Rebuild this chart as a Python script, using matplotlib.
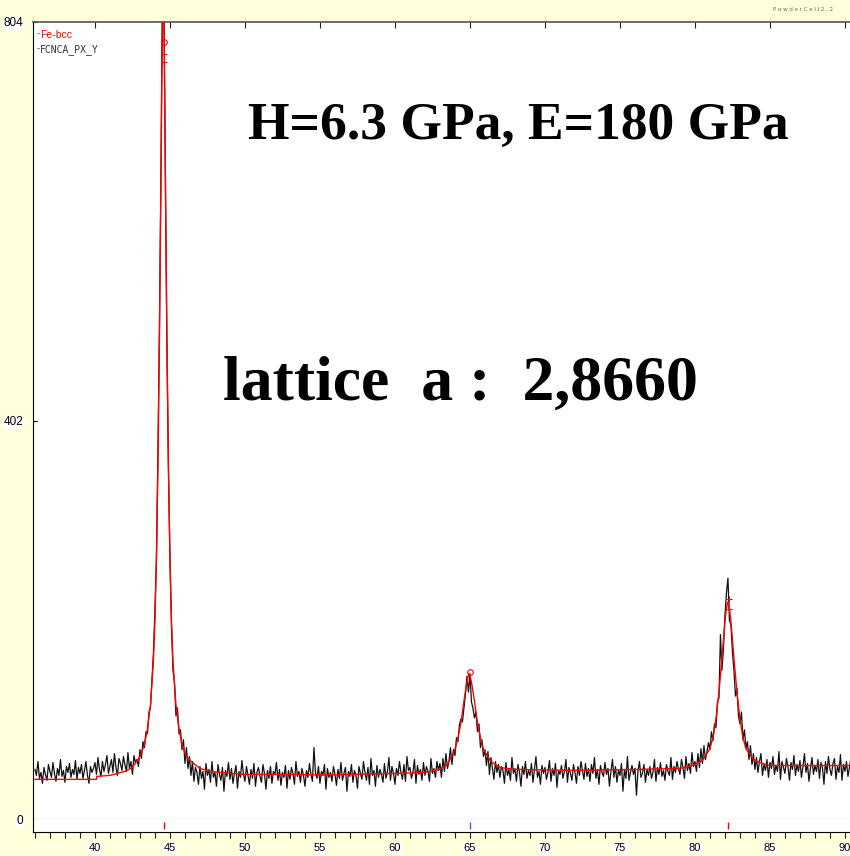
import numpy as np
import matplotlib
matplotlib.use('Agg')
import matplotlib.pyplot as plt
from matplotlib.ticker import MultipleLocator

# measured pattern, 0.1 deg step starting at 36.0 deg 2theta
start_tth = 36.0
step_tth = 0.1
counts = [
    50, 44, 58, 41, 47, 36, 52, 45, 39, 55,
    48, 42, 57, 46, 38, 51, 44, 60, 43, 49,
    37, 53, 47, 56, 42, 50, 45, 59, 40, 52,
    46, 55, 41, 49, 58, 44, 36, 53, 47, 51,
    57, 45, 62, 50, 43, 58, 48, 55, 64, 46,
    53, 60, 47, 66, 52, 44, 61, 56, 49, 63,
    55, 48, 67, 51, 58, 45, 64, 57, 60, 53,
    70, 61, 78, 72, 88, 86, 108, 112, 140, 168,
    212, 262, 372, 498, 655, 845, 826, 640, 470, 352,
    262, 196, 150, 138, 104, 112, 86, 90, 70, 80,
    56, 72, 51, 63, 44, 58, 38, 52, 47, 35,
    53, 41, 48, 30, 56, 44, 50, 37, 58, 42,
    47, 33, 55, 45, 39, 52, 28, 49, 43, 57,
    40, 51, 36, 46, 54, 31, 48, 42, 59, 45,
    38, 53, 44, 35, 50, 41, 56, 33, 47, 52,
    43, 37, 55, 46, 30, 49, 41, 53, 36, 48,
    45, 57, 39, 50, 34, 47, 42, 54, 31, 49,
    40, 52, 46, 35, 58, 43, 48, 37, 51, 44,
    33, 49, 42, 56, 45, 38, 72, 47, 41, 53,
    36, 48, 44, 55, 30, 51, 42, 47, 38, 53,
    45, 34, 50, 41, 57, 39, 46, 52, 28, 48,
    43, 55, 37, 49, 44, 31, 53, 46, 40, 58,
    47, 39, 52, 35, 61, 44, 49, 33, 54, 42,
    50, 45, 37, 56, 41, 48, 62, 39, 53, 46,
    35, 51, 44, 58, 47, 40, 55, 38, 63, 49,
    52, 41, 47, 60, 36, 54, 45, 50, 39, 57,
    44, 53, 48, 38, 61, 46, 51, 42, 58, 49,
    56, 42, 61, 48, 66, 51, 58, 72, 55, 70,
    64, 82, 78, 95, 101, 98, 112, 126, 144, 128,
    146, 118, 112, 102, 108, 88, 96, 72, 80, 63,
    70, 54, 68, 45, 62, 51, 40, 58, 47, 55,
    42, 53, 49, 36, 57, 44, 50, 39, 62, 46,
    51, 38, 55, 47, 33, 53, 45, 58, 41, 49,
    44, 56, 37, 50, 63, 42, 48, 35, 54, 46,
    52, 40, 47, 59, 38, 51, 44, 56, 32, 49,
    45, 54, 41, 48, 60, 37, 52, 46, 39, 55,
    47, 36, 53, 44, 58, 49, 40, 56, 43, 51,
    38, 55, 46, 62, 41, 50, 35, 54, 47, 43,
    57, 45, 51, 33, 48, 60, 42, 53, 37, 49,
    44, 56, 28, 50, 41, 63, 39, 47, 54, 45,
    51, 24, 48, 58, 42, 46, 55, 37, 50, 44,
    53, 41, 47, 60, 38, 52, 45, 57, 43, 49,
    39, 55, 48, 44, 62, 40, 53, 47, 58, 51,
    45, 60, 52, 41, 63, 49, 56, 46, 67, 53,
    58, 48, 66, 52, 71, 56, 74, 60, 68, 77,
    70, 88, 79, 96, 92, 118, 122, 186, 150, 172,
    205, 228, 243, 200, 196, 168, 150, 124, 132, 104,
    96, 108, 80, 90, 71, 78, 60, 74, 55, 66,
    50, 62, 47, 58, 66, 44, 55, 49, 60, 42,
    57, 51, 63, 45, 54, 48, 68, 40, 58, 52,
    46, 61, 53, 39, 57, 50, 64, 44, 55, 48,
    59, 42, 53, 66, 47, 56, 38, 51, 62, 45,
    54, 48, 60, 41, 57, 52, 35, 58, 46, 63,
    50, 44, 56, 61, 40, 53, 47, 65, 39, 55,
    48, 58, 43, 52, 62,
]

# calculated (fitted) Fe-bcc profile
calc_tth = [36.0, 40.1, 40.12, 41.0, 42.0, 42.5, 43.0, 43.3, 43.5, 43.7, 43.9,
            44.0, 44.1, 44.2, 44.3, 44.4, 44.45, 44.5, 44.55, 44.6, 44.65, 44.7,
            44.8, 44.9, 45.0, 45.1, 45.2, 45.4, 45.6, 45.8, 46.1, 46.5, 47.0,
            47.7, 49.0, 50.0, 52.0, 55.0, 57.0, 60.0, 62.0, 63.0, 63.5, 64.0,
            64.2, 64.4, 64.5, 64.6, 64.7, 64.8, 64.9, 64.95, 65.0, 65.1, 65.2,
            65.3, 65.4, 65.5, 65.7, 65.9, 66.4, 67.0, 68.0, 72.0, 76.0, 79.0,
            80.0, 80.5, 81.0, 81.2, 81.4, 81.6, 81.8, 81.9, 82.0, 82.1, 82.2,
            82.3, 82.4, 82.5, 82.6, 82.8, 83.0, 83.2, 83.4, 83.9, 84.5, 85.0,
            90.4]
calc_counts = [40, 40, 43, 44, 48, 52, 63, 75, 91, 115, 160,
               200, 265, 355, 485, 640, 730, 800, 835, 800, 730, 640,
               485, 355, 265, 200, 160, 115, 91, 75, 63, 57, 51,
               48, 46, 45, 45, 44.5, 45, 46, 47, 50, 55, 70,
               82, 97, 108, 119, 129, 138, 145, 147, 145, 138, 129,
               119, 108, 97, 82, 70, 58, 52, 50, 49, 50, 51,
               55, 59, 71, 82, 101, 128, 162, 181, 199, 213, 219,
               213, 199, 181, 162, 128, 101, 82, 71, 60, 56, 54,
               54]

# reflection positions (strip ticks) and peak-top marks
refl_tth = [44.6, 65.0, 82.2]
refl_colors = ['#ff0000', '#9040c0', '#ff0000']
ring_tth = [44.6, 65.0]
ring_counts = [784, 148]
cross_tth = [44.62, 44.62, 82.25, 82.25]
cross_counts = [772, 764, 222, 212]

tth = start_tth + step_tth * np.arange(len(counts))

bg_yellow = '#ffffdc'
x_lo, x_hi = 35.87, 90.45

fig = plt.figure(figsize=(8.5, 8.56), dpi=100)
fig.patch.set_facecolor(bg_yellow)

ax = fig.add_axes([33 / 850, 37 / 856, 1 - 33 / 850 + 0.002, 797 / 856])
ax.set_facecolor('white')
ax.plot(tth, counts, color='#111111', lw=0.9, zorder=2)
ax.plot(calc_tth, calc_counts, color='#ff0000', lw=1.0, zorder=3)
ax.plot(ring_tth, ring_counts, ls='none', marker='o', ms=4, mfc='none',
        mec='#ff0000', mew=0.8, zorder=4)
ax.plot(cross_tth, cross_counts, ls='none', marker='+', ms=5,
        mec='#ff0000', mew=0.8, zorder=4)

ax.set_xlim(x_lo, x_hi)
ax.set_ylim(0, 804)
ax.set_yticks([0, 402, 804])
ax.set_yticklabels(['0', '402', '804'])
ax.tick_params(axis='y', direction='in', length=3, width=0.8, color='black', pad=7,
               labelsize=8.5)
for lab in ax.get_yticklabels():
    lab.set_family(['Liberation Sans Narrow', 'Liberation Sans'])
    lab.set_bbox(dict(facecolor='white', edgecolor='none', pad=0.5))
ax.xaxis.set_major_locator(MultipleLocator(5))
ax.tick_params(axis='x', which='both', bottom=False, labelbottom=False,
               top=True, direction='in', length=4, width=0.8, color='#222222')
ax.spines['left'].set_color('black')
ax.spines['top'].set_color('#555548')
ax.spines['top'].set_linewidth(1.2)
ax.spines['bottom'].set_color('#808080')
ax.spines['right'].set_visible(False)

# reflection strip below the pattern
ax2 = fig.add_axes([33 / 850, 24 / 856, 1 - 33 / 850 + 0.002, 13 / 856])
ax2.set_facecolor('white')
ax2.set_xlim(x_lo, x_hi)
ax2.set_ylim(0, 1)
ax2.vlines(refl_tth, 0.2, 0.75, colors=refl_colors, lw=1.0)
ax2.set_yticks([])
ax2.xaxis.set_major_locator(MultipleLocator(5))
ax2.xaxis.set_minor_locator(MultipleLocator(1))
ax2.tick_params(axis='x', which='both', direction='out', length=4, width=0.8,
                color='#222222', pad=4, labelsize=8)
for lab in ax2.get_xticklabels():
    lab.set_family(['Liberation Sans Narrow', 'Liberation Sans'])
    lab.set_bbox(dict(facecolor='white', edgecolor='none', pad=0.5))
ax2.spines['top'].set_visible(False)
ax2.spines['right'].set_visible(False)
ax2.spines['left'].set_color('black')
ax2.spines['bottom'].set_color('black')

# phase / file labels
ax.text(0.004, 0.985, '-', transform=ax.transAxes, color='#ff0000', fontsize=6,
        va='center', ha='left')
ax.text(0.009, 0.9835, 'Fe-bcc', transform=ax.transAxes, color='#ff0000',
        fontsize=7.5, va='center', ha='left', family='Liberation Sans')
ax.text(0.004, 0.967, '-', transform=ax.transAxes, color='#333333', fontsize=6,
        va='center', ha='left')
ax.text(0.009, 0.9655, 'FCNCA_PX_Y', transform=ax.transAxes, color='#333333',
        fontsize=7, va='center', ha='left', family='DejaVu Sans Mono')
fig.text(0.945, 0.989, 'P o w d e r C e l l 2 . 2', color='#666666', fontsize=4,
         ha='center', va='center')

ax.text(0.593, 0.869, 'H=6.3 GPa, E=180 GPa', transform=ax.transAxes,
        fontsize=38.5, fontweight='bold', family='Liberation Serif',
        ha='center', va='center')
ax.text(0.522, 0.545, 'lattice  a :  2,8660', transform=ax.transAxes,
        fontsize=46, fontweight='bold', family='Liberation Serif',
        ha='center', va='center')

fig.savefig('out.png', dpi=100, facecolor=fig.get_facecolor())
